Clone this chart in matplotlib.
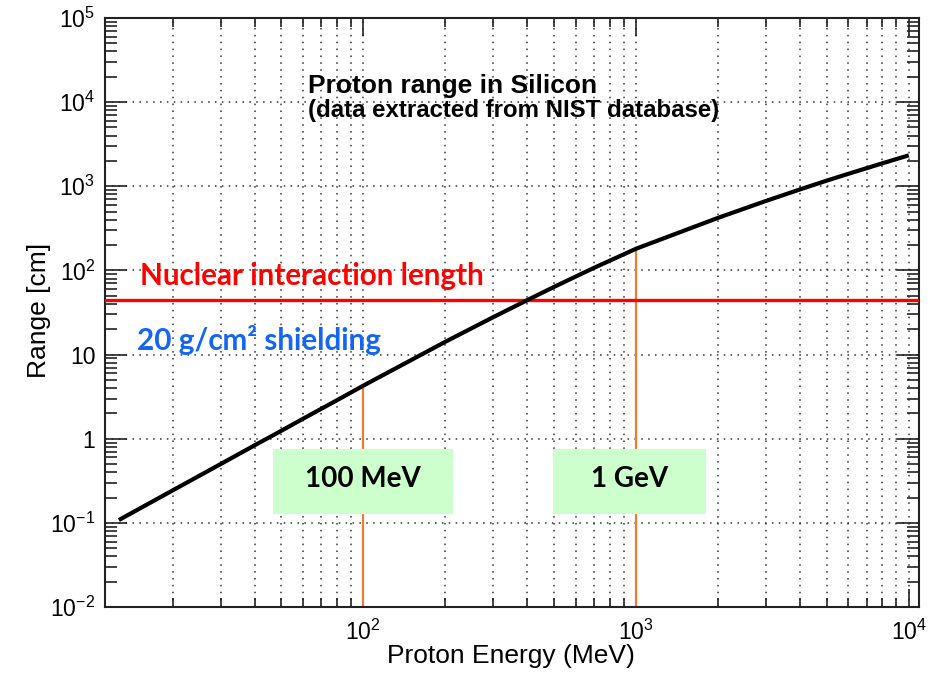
import matplotlib
matplotlib.use("Agg")
import matplotlib.pyplot as plt
from matplotlib.ticker import FixedLocator, FixedFormatter, LogLocator, NullFormatter
from matplotlib.patches import Rectangle

# Proton CSDA range in silicon (cm) vs kinetic energy (MeV)
energy_mev = [12.7, 20, 30, 40, 50, 60, 70, 80, 100, 200, 300, 400, 500,
              600, 700, 1000, 2000, 3000, 4000, 5000, 6000, 8000, 10000]
range_cm = [0.108, 0.243, 0.50, 0.836, 1.24, 1.72, 2.26, 2.86, 4.27, 14.2,
            27.9, 44.5, 63.6, 84.4, 107.0, 181.0, 422.0, 671.0, 920.0,
            1167.0, 1406.0, 1875.0, 2333.0]

# Nuclear interaction length of silicon (cm)
interaction_length_cm = 45.0

# Marked energies (MeV) and their labels
marker_energies = [100, 1000]
marker_labels = ["100 MeV", "1 GeV"]

x_tick_values = [1e2, 1e3, 1e4]
x_tick_labels = [r"$10^{2}$", r"$10^{3}$", r"$10^{4}$"]
y_tick_values = [1e-2, 1e-1, 1, 10, 1e2, 1e3, 1e4, 1e5]
y_tick_labels = [r"$10^{-2}$", r"$10^{-1}$", "1", "10", r"$10^{2}$",
                 r"$10^{3}$", r"$10^{4}$", r"$10^{5}$"]

plt.rcParams["font.family"] = ["Liberation Sans", "DejaVu Sans"]
plt.rcParams["mathtext.fontset"] = "custom"
plt.rcParams["mathtext.rm"] = "Liberation Sans"
plt.rcParams["mathtext.it"] = "Liberation Sans"
plt.rcParams["mathtext.bf"] = "Liberation Sans:bold"
plt.rcParams["mathtext.default"] = "rm"

W, H = 946, 678
fig = plt.figure(figsize=(W / 100, H / 100), dpi=100)
L, R, B, T = 105, 919, 607, 18
ax = fig.add_axes([L / W, 1 - B / H, (R - L) / W, (B - T) / H])


def afrac(px, py):
    return (px - L) / (R - L), (B - py) / (B - T)


ax.set_xscale("log")
ax.set_yscale("log")
ax.set_xlim(11.3, 10900)
ax.set_ylim(1e-2, 1e5)

# grid: dotted, x at major+minor, y at major only
ax.xaxis.set_major_locator(FixedLocator(x_tick_values))
ax.xaxis.set_major_formatter(FixedFormatter(x_tick_labels))
ax.xaxis.set_minor_locator(LogLocator(base=10, subs=range(2, 10), numticks=20))
ax.xaxis.set_minor_formatter(NullFormatter())
ax.yaxis.set_major_locator(FixedLocator(y_tick_values))
ax.yaxis.set_major_formatter(FixedFormatter(y_tick_labels))
ax.yaxis.set_minor_locator(LogLocator(base=10, subs=range(2, 10), numticks=20))
ax.yaxis.set_minor_formatter(NullFormatter())

grid_kw = dict(color="#333333", linestyle=(0, (1, 3.5)), linewidth=1.1)
ax.grid(True, which="both", axis="x", **grid_kw)
ax.grid(True, which="major", axis="y", **grid_kw)
ax.set_axisbelow(True)

ax.tick_params(axis="both", which="both", direction="in", top=True, right=True,
               width=1.2, color="#222222", labelsize=16.5)
ax.tick_params(axis="x", which="major", length=13, pad=9)
ax.tick_params(axis="x", which="minor", length=6.5)
ax.tick_params(axis="y", which="major", length=16, pad=7)
ax.tick_params(axis="y", which="minor", length=8.5)
for s in ax.spines.values():
    s.set_linewidth(1.5)
    s.set_color("#222222")

# orange markers from the axis up to the curve
for e in marker_energies:
    idx = energy_mev.index(e)
    ax.plot([e, e], [1e-2, range_cm[idx]], color="#ED7D31", linewidth=1.6,
            zorder=2, solid_capstyle="butt")

# interaction length
ax.axhline(interaction_length_cm, color="#FF0000", linewidth=2.4, zorder=3)

# range curve
ax.plot(energy_mev, range_cm, color="black", linewidth=3.0, zorder=4,
        solid_capstyle="butt", solid_joinstyle="round")

# green labelled boxes
boxes = [(272.7, 452.7), (552.7, 706.0)]
for (x0, x1), lab in zip(boxes, marker_labels):
    fx0, fy0 = afrac(x0, 514)
    fx1, fy1 = afrac(x1, 449)
    ax.add_patch(Rectangle((fx0, fy0), fx1 - fx0, fy1 - fy0,
                           transform=ax.transAxes, facecolor="#CCFFCC",
                           edgecolor="none", zorder=5))
    tx, ty = afrac((x0 + x1) / 2 + 0.5, 487)
    ax.text(tx, ty, lab, transform=ax.transAxes, ha="center", va="baseline",
            fontsize=20, fontweight="bold", family=["Lato", "DejaVu Sans"],
            color="black", zorder=6)

x, y = afrac(308, 93.3)
ax.text(x, y, "Proton range in Silicon", transform=ax.transAxes,
        fontsize=19, fontweight="bold", va="baseline", ha="left", zorder=6)
x, y = afrac(308, 117)
ax.text(x, y, "(data extracted from NIST database)", transform=ax.transAxes,
        fontsize=17.3, fontweight="bold", va="baseline", ha="left", zorder=6)

x, y = afrac(140, 285)
ax.text(x, y, "Nuclear interaction length", transform=ax.transAxes,
        fontsize=21.3, fontweight="bold", color="#FF0000",
        family=["Lato", "DejaVu Sans"], va="baseline", ha="left", zorder=6)
x, y = afrac(137, 350)
ax.text(x, y, "20 g/cm\u00b2 shielding", transform=ax.transAxes,
        fontsize=21.3, fontweight="bold", color="#1565F5",
        family=["Lato", "DejaVu Sans"], va="baseline", ha="left", zorder=6)

fig.text(511 / W, 1 - 663 / H, "Proton Energy (MeV)", ha="center",
         va="baseline", fontsize=19)
fig.text(39 / W, 1 - 310 / H, "Range [cm]", ha="center", va="center",
         rotation=90, fontsize=19)

fig.savefig("out.png", dpi=100)
